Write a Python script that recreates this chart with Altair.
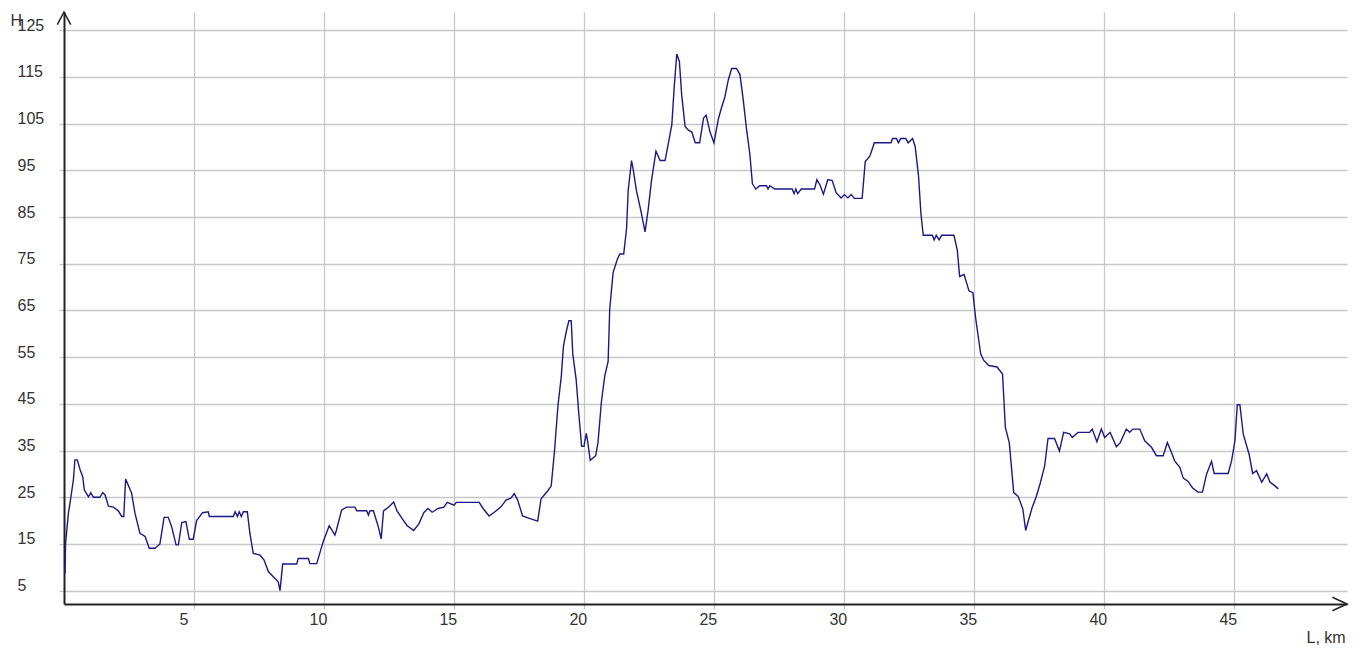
import altair as alt
import pandas as pd

# distance along route, km
km = [0.04, 0.06, 0.17, 0.23, 0.36, 0.42, 0.51, 0.62, 0.72, 0.78, 0.94, 1.03, 1.13, 1.38, 1.49, 1.58,
      1.71, 1.9, 2.09, 2.22, 2.3, 2.37, 2.47, 2.6, 2.73, 2.92, 3.12, 3.28, 3.5, 3.69, 3.85, 4.01,
      4.14, 4.31, 4.4, 4.53, 4.69, 4.82, 4.97, 5.1, 5.33, 5.55, 5.59, 6.51, 6.58, 6.67, 6.74, 6.82,
      6.9, 7.05, 7.15, 7.28, 7.54, 7.69, 7.86, 8.05, 8.24, 8.31, 8.41, 8.95, 9.01, 9.4, 9.46, 9.72,
      9.97, 10.2, 10.3, 10.42, 10.48, 10.68, 10.87, 11.19, 11.26, 11.64, 11.71, 11.77, 11.9, 12.09,
      12.2, 12.29, 12.49, 12.68, 12.81, 13.0, 13.2, 13.45, 13.65, 13.84, 14.0, 14.16, 14.39, 14.61,
      14.74, 15.0, 15.09, 15.97, 16.12, 16.35, 16.55, 16.8, 17.0, 17.19, 17.32, 17.45, 17.64, 17.9,
      18.22, 18.35, 18.61, 18.74, 18.87, 19.0, 19.13, 19.21, 19.32, 19.42, 19.51, 19.57, 19.7, 19.8,
      19.91, 20.0, 20.09, 20.15, 20.24, 20.45, 20.54, 20.67, 20.8, 20.93, 20.99, 21.12, 21.28, 21.38,
      21.53, 21.64, 21.7, 21.83, 21.89, 22.02, 22.18, 22.35, 22.47, 22.6, 22.77, 22.93, 23.12, 23.25,
      23.38, 23.47, 23.57, 23.67, 23.76, 23.89, 24.02, 24.15, 24.28, 24.45, 24.6, 24.7, 24.85, 25.0,
      25.17, 25.29, 25.42, 25.55, 25.68, 25.87, 26.0, 26.12, 26.25, 26.38, 26.48, 26.61, 26.76, 27.02,
      27.08, 27.15, 27.34, 28.01, 28.08, 28.15, 28.22, 28.36, 28.87, 28.96, 29.09, 29.21, 29.38, 29.55,
      29.7, 29.89, 30.02, 30.15, 30.28, 30.4, 30.7, 30.82, 31.0, 31.17, 31.81, 31.87, 32.02, 32.1,
      32.18, 32.38, 32.47, 32.64, 32.74, 32.87, 32.96, 33.05, 33.4, 33.47, 33.55, 33.66, 33.76, 34.23,
      34.36, 34.45, 34.62, 34.81, 34.96, 35.06, 35.26, 35.38, 35.57, 35.89, 36.1, 36.21, 36.36, 36.53,
      36.7, 36.88, 36.99, 37.11, 37.24, 37.39, 37.55, 37.72, 37.85, 38.1, 38.29, 38.45, 38.68, 38.78,
      39.0, 39.45, 39.55, 39.73, 39.9, 40.03, 40.24, 40.48, 40.63, 40.86, 40.99, 41.12, 41.38, 41.57,
      41.83, 42.02, 42.28, 42.44, 42.6, 42.72, 42.92, 43.05, 43.24, 43.41, 43.62, 43.79, 43.95, 44.14,
      44.24, 44.78, 44.91, 45.04, 45.13, 45.23, 45.36, 45.59, 45.72, 45.87, 46.07, 46.26, 46.39, 46.52,
      46.71]

# height, m
h = [8.7, 15.1, 21.6, 23.7, 28.7, 33, 33, 30.9, 29.4, 26.6, 25.1, 26, 25, 25, 26, 25.5,
     23.1, 22.9, 22.1, 20.9, 20.9, 28.9, 27.6, 25.9, 21.6, 17.3, 16.6, 14.1, 14.1, 15, 20.7, 20.7,
     18.7, 14.8, 14.8, 19.6, 19.8, 16, 16, 20, 21.7, 21.9, 20.9, 20.9, 21.9, 20.9, 21.9, 20.9,
     21.9, 21.9, 17.3, 13, 12.6, 11.6, 9.1, 8, 6.9, 5, 10.7, 10.7, 11.9, 11.9, 10.8, 10.8,
     15.5, 18.9, 18, 16.9, 18, 22.3, 22.9, 22.9, 22.1, 22.1, 21.2, 22.1, 22.1, 18.7,
     16.1, 22.1, 22.9, 24.0, 22.1, 20.5, 18.9, 17.9, 19.3, 21.7, 22.6, 21.8, 22.6, 22.9,
     23.9, 23.3, 23.9, 23.9, 22.6, 21, 21.8, 22.9, 24.4, 24.8, 25.8, 24.4, 21, 20.5,
     19.9, 24.7, 26.4, 27.4, 35.1, 44.6, 51, 57.3, 60.5, 62.8, 62.8, 55.7, 50.2, 43,
     35.9, 35.9, 38.7, 36.7, 32.9, 33.9, 36.7, 45.4, 51, 54.1, 65.2, 73.1, 75.9, 77.1,
     77.1, 82.6, 90.6, 97.1, 95.3, 90.6, 86.6, 81.8, 86.6, 92.9, 99.1, 97.1, 97.1, 100.9,
     104.8, 112.7, 119.9, 118.3, 111.1, 104.4, 103.6, 103.2, 100.9, 100.9, 106.2, 106.8, 103.2, 100.9,
     106, 108.4, 110.7, 114.3, 116.8, 116.8, 115.5, 110.4, 104.0, 98.5, 92.1, 91, 91.7, 91.7,
     91, 91.7, 91, 91, 90, 91, 90, 91, 91, 93, 91.7, 89.9, 93, 92.8,
     90.2, 89.1, 89.8, 89.1, 89.8, 89, 89, 96.9, 98.1, 100.9, 100.9, 101.8, 101.8, 100.9,
     101.8, 101.8, 100.9, 101.8, 100.1, 93.7, 85.8, 81.1, 81.1, 80.1, 81.1, 80.1, 81.1, 81.1,
     77.9, 72.3, 72.7, 69.2, 68.8, 63.6, 55.7, 54.3, 53.2, 52.9, 51.4, 39.9, 36.7, 26,
     25.2, 22.5, 17.9, 20.3, 22.8, 25, 28, 31.7, 37.6, 37.6, 34.9, 38.9, 38.6, 37.8,
     38.9, 38.9, 39.6, 36.9, 39.6, 37.8, 38.9, 35.8, 36.7, 39.6, 38.9, 39.6, 39.6, 37.1,
     35.7, 33.9, 33.9, 36.7, 34.6, 32.8, 31.4, 29.1, 28.4, 27, 26.1, 26.1, 30, 32.7,
     30.1, 30.1, 32.8, 37.1, 44.8, 44.8, 38.5, 34.1, 30.1, 30.7, 28.2, 30, 28.2, 27.7,
     26.8]

x_ticks = [5, 10, 15, 20, 25, 30, 35, 40, 45]
y_ticks = [5, 15, 25, 35, 45, 55, 65, 75, 85, 95, 105, 115, 125]
x_domain = [0, 49.35]
y_domain = [2.15, 128.9]

FONT = "Liberation Sans"
AXIS_COLOR = "#222222"
GRID_COLOR = "#c8c8c8"
TEXT_COLOR = "#333333"

df = pd.DataFrame({"km": km, "h": h})

xs = alt.Scale(domain=x_domain, nice=False, zero=False)
ys = alt.Scale(domain=y_domain, nice=False, zero=False)

x_axis = alt.Axis(values=x_ticks, grid=True, gridColor=GRID_COLOR, gridWidth=1.3,
                  tickColor=GRID_COLOR, tickWidth=1.3, tickSize=5,
                  domainColor=AXIS_COLOR, domainWidth=2,
                  labelAlign="left", labelOffset=-15, labelBaseline="top", labelPadding=2,
                  labelFont=FONT, labelFontSize=16, labelColor=TEXT_COLOR,
                  title="L, km", titleFont=FONT, titleFontSize=16, titleFontWeight="normal",
                  titleColor=TEXT_COLOR, titleAlign="left", titleBaseline="alphabetic",
                  titleX=1242, titleY=38, titleAngle=0)

y_axis = alt.Axis(values=y_ticks, grid=True, gridColor=GRID_COLOR, gridWidth=1.3,
                  tickColor=GRID_COLOR, tickWidth=1.3, tickSize=5,
                  domainColor=AXIS_COLOR, domainWidth=2,
                  labelAlign="left", labelBaseline="alphabetic", labelPadding=42,
                  labelFont=FONT, labelFontSize=16, labelColor=TEXT_COLOR,
                  title="H", titleFont=FONT, titleFontSize=16, titleFontWeight="normal",
                  titleColor=TEXT_COLOR, titleAlign="left", titleBaseline="alphabetic",
                  titleX=-54, titleY=13, titleAngle=0)

line = alt.Chart(df).mark_line(color="#1a1a86", strokeWidth=1.4).encode(
    x=alt.X("km:Q", scale=xs, axis=x_axis),
    y=alt.Y("h:Q", scale=ys, axis=y_axis),
)

arrow_x = alt.Chart(pd.DataFrame({"km": [x_domain[1]], "h": [y_domain[0]]})).mark_point(
    shape="M-1,-0.46L0,0L-1,0.46", filled=False, size=853, stroke=AXIS_COLOR, strokeWidth=1.5, opacity=1
).encode(x=alt.X("km:Q", scale=xs), y=alt.Y("h:Q", scale=ys))

arrow_y = alt.Chart(pd.DataFrame({"km": [x_domain[0]], "h": [y_domain[1]]})).mark_point(
    shape="M-0.53,1L0,0L0.53,1", filled=False, size=645, stroke=AXIS_COLOR, strokeWidth=1.5, opacity=1
).encode(x=alt.X("km:Q", scale=xs), y=alt.Y("h:Q", scale=ys))

chart = alt.layer(line, arrow_x, arrow_y).properties(
    width=1283, height=592,
    autosize=alt.AutoSizeParams(type="none"),
    padding={"left": 56, "top": 4, "right": 8, "bottom": 43},
    background="white",
).configure_view(strokeWidth=0)

chart.save("out.html", embed_options={"renderer": "svg", "actions": False})
